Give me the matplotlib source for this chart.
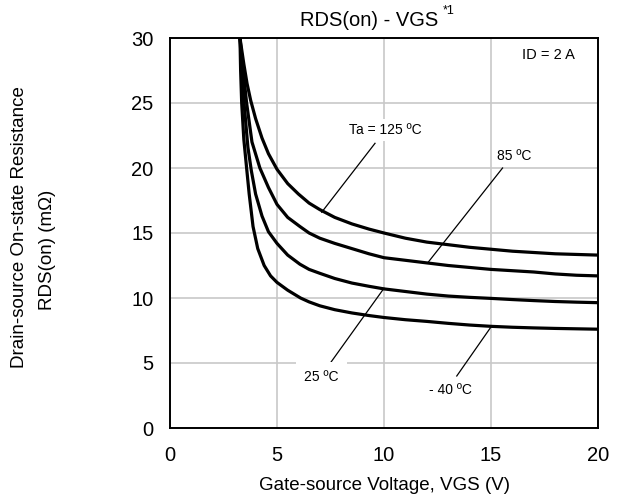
import matplotlib
matplotlib.use("Agg")
import matplotlib.pyplot as plt

plt.rcParams['font.family'] = ['Liberation Sans', 'DejaVu Sans']

# Data (VGS in V, RDS(on) in mOhm)
vgs_125 = [3.27, 3.45, 3.6, 3.77, 4.0, 4.3, 4.6, 5.0, 5.5, 6.0, 6.5, 7.0, 7.7, 8.5, 9.3, 10.0,
           11.0, 12.0, 13.0, 14.0, 15.0, 16.0, 17.0, 18.0, 19.0, 20.0]
rds_125 = [30.0, 28.0, 26.5, 25.2, 23.8, 22.3, 21.1, 19.9, 18.8, 18.0, 17.3, 16.8, 16.2, 15.7, 15.3, 15.0,
           14.6, 14.3, 14.1, 13.9, 13.75, 13.6, 13.5, 13.4, 13.35, 13.3]

vgs_85 = [3.27, 3.4, 3.58, 3.83, 4.2, 4.6, 5.0, 5.5, 6.07, 6.5, 7.0, 7.7, 8.5, 9.3, 10.0,
          11.0, 12.0, 13.0, 14.0, 15.0, 16.0, 17.0, 18.0, 19.0, 20.0]
rds_85 = [30.0, 27.8, 25.0, 22.0, 20.0, 18.5, 17.2, 16.2, 15.5, 15.0, 14.6, 14.2, 13.8, 13.4, 13.1,
          12.9, 12.7, 12.5, 12.35, 12.2, 12.1, 12.0, 11.85, 11.75, 11.7]

vgs_25 = [3.27, 3.36, 3.46, 3.64, 3.8, 4.0, 4.3, 4.6, 5.0, 5.5, 6.07, 6.5, 7.0, 7.7, 8.5, 9.3, 10.0,
          11.0, 12.0, 13.0, 14.0, 15.0, 16.0, 17.0, 18.0, 19.0, 20.0]
rds_25 = [30.0, 27.5, 25.0, 21.6, 19.8, 18.0, 16.3, 15.1, 14.2, 13.3, 12.6, 12.2, 11.9, 11.5, 11.15, 10.9, 10.7,
          10.5, 10.3, 10.15, 10.05, 9.97, 9.88, 9.8, 9.73, 9.68, 9.64]

vgs_m40 = [3.27, 3.3, 3.35, 3.45, 3.58, 3.7, 3.88, 4.1, 4.4, 4.7, 5.0, 5.5, 6.1, 6.5, 7.0, 7.7, 8.5, 9.3, 10.0,
           11.0, 12.0, 13.0, 14.0, 15.0, 16.0, 17.0, 18.0, 19.0, 20.0]
rds_m40 = [30.0, 27.5, 25.0, 22.2, 20.0, 18.0, 15.5, 13.8, 12.5, 11.7, 11.2, 10.6, 10.0, 9.7, 9.4, 9.1, 8.85, 8.65, 8.5,
           8.33, 8.2, 8.05, 7.92, 7.82, 7.75, 7.7, 7.66, 7.63, 7.6]

x_ticks = [0, 5, 10, 15, 20]
y_ticks = [0, 5, 10, 15, 20, 25, 30]

title_text = "RDS(on) - VGS"
title_sup = "*1"
x_label = "Gate-source Voltage, VGS (V)"
y_label_1 = "Drain-source On-state Resistance"
y_label_2 = "RDS(on) (m\u03a9)"
cond_text = "ID = 2 A"

W, H = 622, 499
fig = plt.figure(figsize=(W / 100, H / 100), dpi=100)
ax = fig.add_axes([170 / W, 1 - 428 / H, (598 - 170) / W, (428 - 38) / H])

for v, r in [(vgs_125, rds_125), (vgs_85, rds_85), (vgs_25, rds_25), (vgs_m40, rds_m40)]:
    ax.plot(v, r, color='black', lw=2.3, solid_capstyle='butt', solid_joinstyle='round', zorder=3)

ax.set_xlim(0, 20)
ax.set_ylim(0, 30)
ax.set_xticks(x_ticks)
ax.set_yticks(y_ticks)
ax.set_xticklabels([str(t) for t in x_ticks])
ax.set_yticklabels([str(t) for t in y_ticks])
ax.tick_params(axis='both', length=0, labelsize=14.5)
ax.tick_params(axis='x', pad=13)
ax.tick_params(axis='y', pad=12)
ax.grid(True, color='#c8c8c8', lw=1.2, zorder=0)
for s in ax.spines.values():
    s.set_linewidth(1.4)
    s.set_color('black')
    s.set_zorder(5)

box = dict(facecolor='white', edgecolor='none', pad=3)

# Annotations with leader lines
ax.plot([9.58, 7.09], [21.9, 16.6], color='black', lw=0.9, zorder=4)
ax.text(10.07, 22.9, "Ta = 125 \u00baC", fontsize=10, ha='center', va='center', bbox=box, zorder=4)

ax.plot([15.54, 12.04], [20.0, 12.7], color='black', lw=0.9, zorder=4)
ax.text(16.07, 20.9, "85 \u00baC", fontsize=10, ha='center', va='center', bbox=box, zorder=4)

ax.plot([7.48, 10.0], [4.97, 10.75], color='black', lw=0.9, zorder=4)
ax.text(7.06, 3.9, "25 \u00baC", fontsize=10, ha='center', va='center',
        bbox=dict(facecolor='white', edgecolor='none', pad=6), zorder=4)

ax.plot([13.4, 14.99], [4.0, 7.75], color='black', lw=0.9, zorder=4)
ax.text(13.1, 2.9, "- 40 \u00baC", fontsize=10, ha='center', va='center', zorder=4)

ax.text(17.7, 28.7, cond_text, fontsize=10.5, ha='center', va='center', zorder=4)

# Title
fig.text(369.5 / W, 1 - 20 / H, title_text, fontsize=14.5, ha='center', va='center')
fig.text(443 / W, 1 - 11 / H, title_sup, fontsize=9, ha='left', va='center')

# Axis labels
fig.text(384 / W, 1 - 486 / H, x_label, fontsize=13.5, ha='center', va='center')
fig.text(19.5 / W, 1 - 227 / H, y_label_1, fontsize=13.5, ha='center', va='center', rotation=90)
fig.text(47 / W, 1 - 250 / H, y_label_2, fontsize=13.5, ha='center', va='center', rotation=90)

fig.savefig("out.png", dpi=100)
